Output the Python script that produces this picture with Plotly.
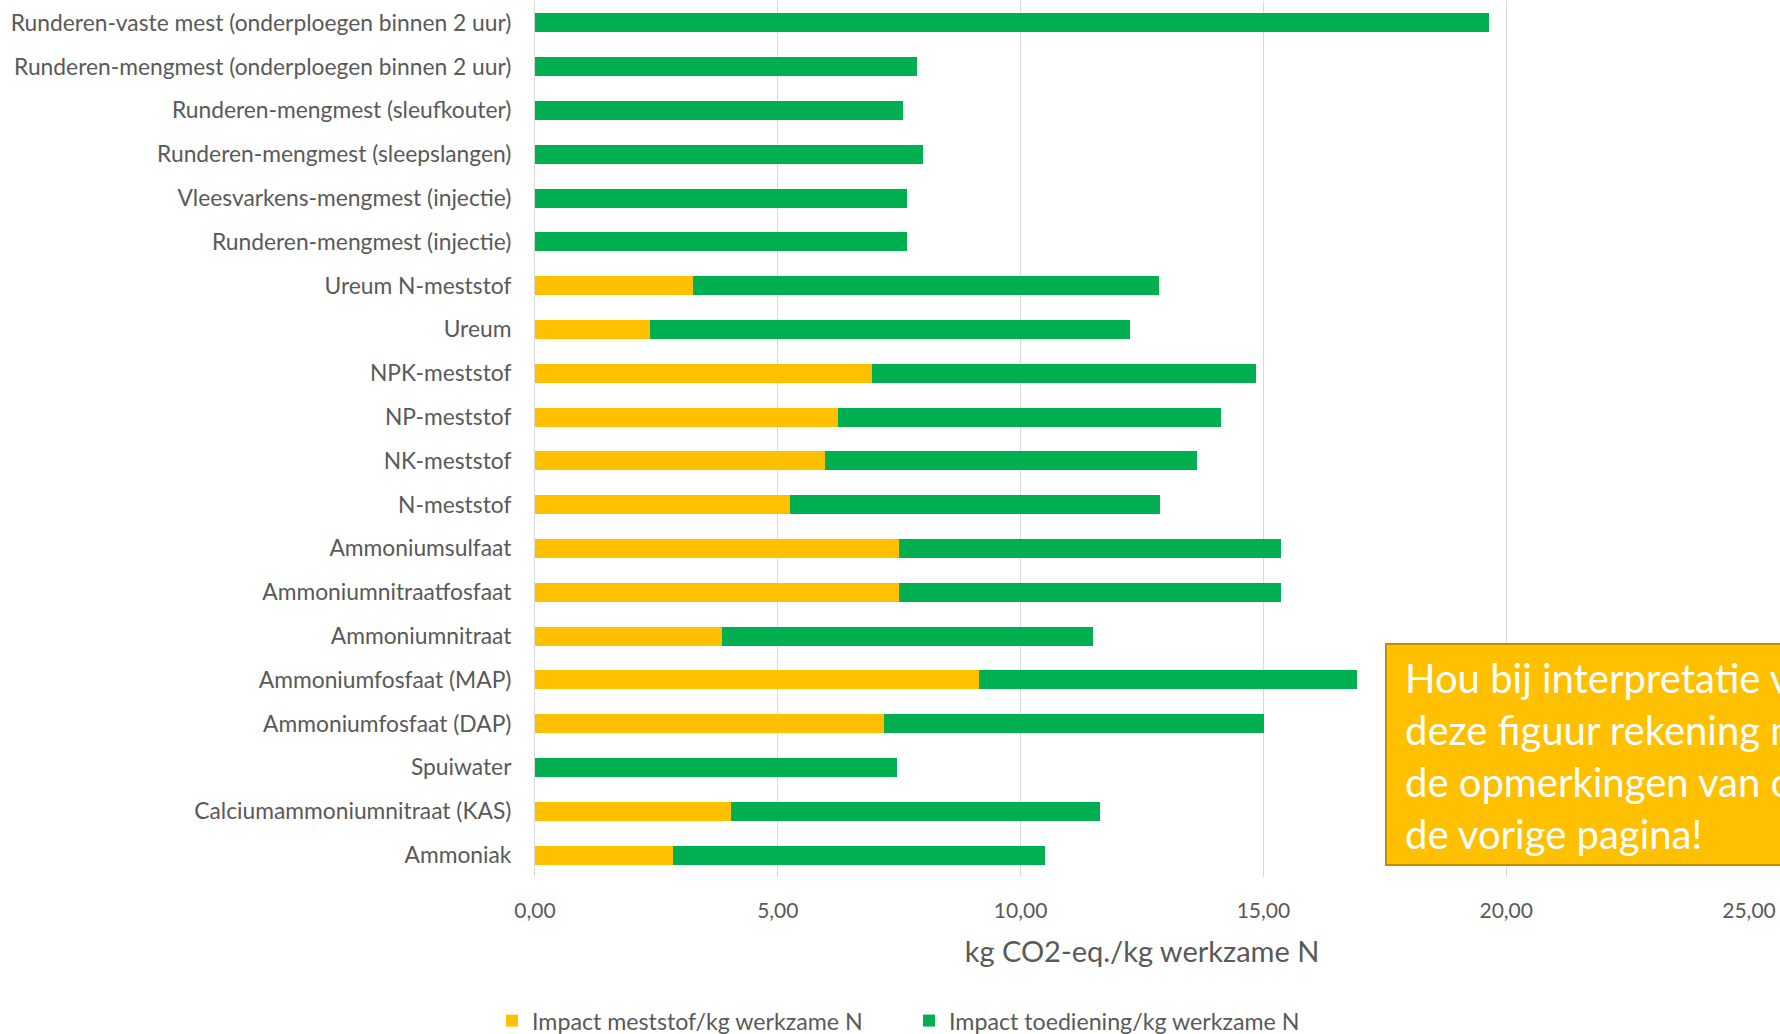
import plotly.graph_objects as go

categories = [
    "Runderen-vaste mest (onderploegen binnen 2 uur)",
    "Runderen-mengmest (onderploegen binnen 2 uur)",
    "Runderen-mengmest (sleufkouter)",
    "Runderen-mengmest (sleepslangen)",
    "Vleesvarkens-mengmest (injectie)",
    "Runderen-mengmest (injectie)",
    "Ureum N-meststof",
    "Ureum",
    "NPK-meststof",
    "NP-meststof",
    "NK-meststof",
    "N-meststof",
    "Ammoniumsulfaat",
    "Ammoniumnitraatfosfaat",
    "Ammoniumnitraat",
    "Ammoniumfosfaat (MAP)",
    "Ammoniumfosfaat (DAP)",
    "Spuiwater",
    "Calciumammoniumnitraat (KAS)",
    "Ammoniak",
]

impact_meststof = [0, 0, 0, 0, 0, 0, 3.25, 2.36, 6.95, 6.24, 5.97, 5.26,
                   7.50, 7.50, 3.86, 9.14, 7.18, 0, 4.04, 2.85]
impact_totaal = [19.65, 7.86, 7.57, 7.98, 7.66, 7.66, 12.85, 12.25, 14.84, 14.13,
                 13.63, 12.87, 15.37, 15.37, 11.50, 16.93, 15.01, 7.46, 11.63, 10.51]
impact_toediening = [round(t - m, 2) for t, m in zip(impact_totaal, impact_meststof)]

tick_vals = [0, 5, 10, 15, 20, 25]
tick_labels = ["0,00", "5,00", "10,00", "15,00", "20,00", "25,00"]

name_meststof = "Impact meststof/kg werkzame N"
name_toediening = "Impact toediening/kg werkzame N"
note_text = ("Hou bij interpretatie van<br>deze figuur rekening met<br>"
             "de opmerkingen van op<br>de vorige pagina!")

W, H = 1780, 1034
ML, MR, MT, MB = 535, 31, 1, 157
PW = W - ML - MR
PH = H - MT - MB

def px_x(p):
    return (p - ML) / PW

def px_y(p):
    return 1 - (p - MT) / PH

FONT = "Lato, 'Open Sans', sans-serif"
GRAY = "#595959"

fig = go.Figure()
fig.add_trace(go.Bar(
    y=categories, x=impact_meststof, name=name_meststof, orientation="h",
    marker=dict(color="#FFC000", line=dict(width=0)),
))
fig.add_trace(go.Bar(
    y=categories, x=impact_toediening, name=name_toediening, orientation="h",
    marker=dict(color="#00B050", line=dict(width=0)),
))

fig.update_layout(
    width=W, height=H,
    barmode="stack", bargap=0.57,
    margin=dict(l=ML, r=MR, t=MT, b=MB, autoexpand=False),
    paper_bgcolor="white", plot_bgcolor="white",
    font=dict(family=FONT, color=GRAY, size=21),
    showlegend=True,
    legend=dict(
        orientation="h", x=px_x(492), xanchor="left", y=px_y(1021), yanchor="middle",
        font=dict(size=23.2, color=GRAY), entrywidth=372, entrywidthmode="pixels",
        traceorder="normal", itemwidth=30,
    ),
    xaxis=dict(
        range=[0, 25], tickvals=tick_vals, ticktext=tick_labels,
        showgrid=True, gridcolor="#D9D9D9", gridwidth=1,
        zeroline=False, showline=False,
        ticks="outside", ticklen=15, tickcolor="rgba(0,0,0,0)",
        tickfont=dict(size=21, color=GRAY),
        title=dict(text="kg CO2-eq./kg werkzame N", font=dict(size=29, color=GRAY), standoff=20),
    ),
    yaxis=dict(
        autorange="reversed", showgrid=False, zeroline=False,
        showline=True, linecolor="#D9D9D9", linewidth=1,
        ticks="outside", ticklen=18, tickcolor="rgba(0,0,0,0)",
        tickfont=dict(size=22.8, color=GRAY),
    ),
)

fig.add_shape(type="rect", xref="paper", yref="paper",
              x0=px_x(1386), x1=px_x(1830), y0=px_y(865), y1=px_y(644),
              fillcolor="#FFC000", line=dict(color="#BF9000", width=2), layer="above")
fig.add_annotation(xref="paper", yref="paper", x=px_x(1403), y=px_y(756),
                   xanchor="left", yanchor="middle", align="left", showarrow=False,
                   text=note_text, font=dict(size=40, color="white", family=FONT))

fig.write_html("out.html")
